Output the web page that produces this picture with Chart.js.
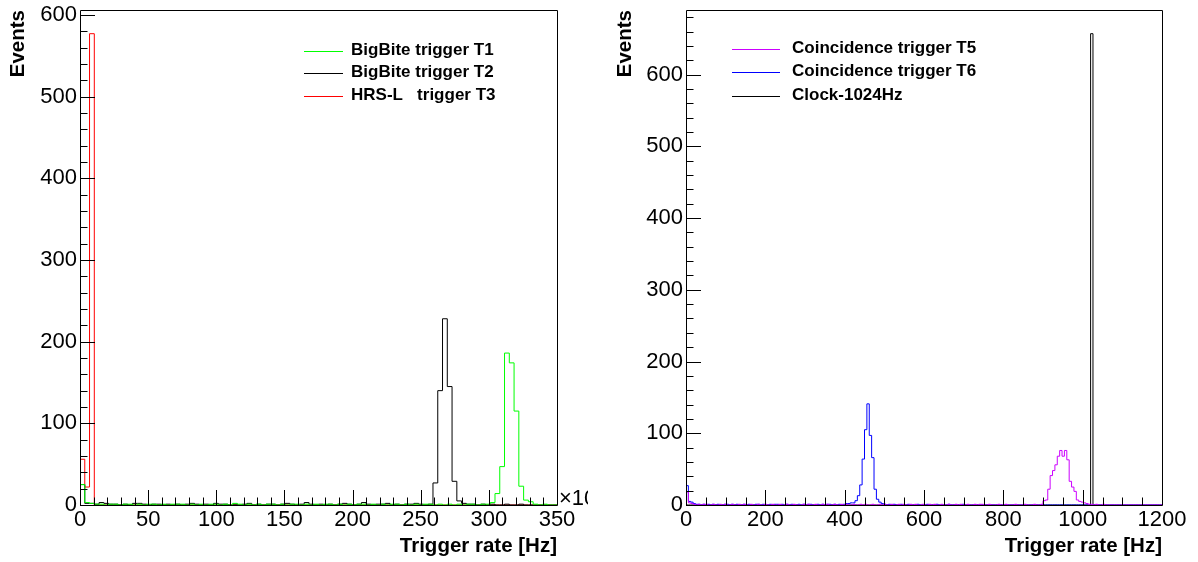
<!DOCTYPE html>
<html>
<head>
<meta charset="utf-8">
<script src="https://cdn.jsdelivr.net/npm/chart.js@4.4.1/dist/chart.umd.min.js"></script>
<style>
  body { margin: 0; background: #fff; }
  #wrap { position: relative; width: 1198px; height: 562px; }
  canvas { position: absolute; top: 0; }
</style>
</head>
<body>
<div id="wrap">
  <canvas id="left" width="599" height="562" style="left:0"></canvas>
  <canvas id="right" width="599" height="562" style="left:599px"></canvas>
</div>
<script>
// left pad: rates in units of 10^3 Hz, 100 bins from 0 to 350
const leftBinWidth = 3.5;
const leftXTicks = [0, 50, 100, 150, 200, 250, 300, 350];
const leftYTicks = [0, 100, 200, 300, 400, 500, 600];
const leftLabels = ['BigBite trigger T1', 'BigBite trigger T2', 'HRS-L   trigger T3'];
const bigbiteT1 = [
  25,3,2,1,1,0,1,1,0,1, 1,0,1,0,1,1,0,1,0,1,
  1,1,0,1,0,1,0,1,1,0, 1,0,2,1,0,1,0,1,0,1,
  1,0,1,0,1,1,0,1,0,1, 0,1,1,0,1,0,1,0,1,1,
  0,1,0,1,0,1,1,0,1,0, 1,0,1,1,0,1,0,1,0,1,
  0,1,1,0,1,1,3,14,47,186, 174,115,23,6,4,1,0,1,0,0
];
const bigbiteT2 = [
  25,2,2,1,3,2,1,1,0,1, 0,2,2,1,0,1,1,0,1,0,
  1,0,1,2,1,0,1,0,2,1, 1,0,1,0,1,2,0,1,0,1,
  1,0,1,2,1,0,1,3,1,0, 1,0,1,0,1,2,1,0,1,3,
  1,0,1,1,2,0,1,0,1,1, 2,1,0,1,27,140,228,145,29,5,
  2,1,1,0,1,0,1,0,0,1, 0,0,1,0,0,0,0,0,0,0
];
const hrsT3 = [
  56,22,577,0,0,0,0,0,0,0, 0,0,0,0,0,0,0,0,0,0,
  0,0,0,0,0,0,0,0,0,0, 0,0,0,0,0,0,0,0,0,0,
  0,0,0,0,0,0,0,0,0,0, 0,0,0,0,0,0,0,0,0,0,
  0,0,0,0,0,0,0,0,0,0, 0,0,0,0,0,0,0,0,0,0,
  0,0,0,0,0,0,0,0,0,0, 0,0,0,0,0,0,0,0,0,0
];

// right pad: rates in Hz, 200 bins from 0 to 1200
const rightBinWidth = 6;
const rightXTicks = [0, 200, 400, 600, 800, 1000, 1200];
const rightYTicks = [0, 100, 200, 300, 400, 500, 600];
const rightLabels = ['Coincidence trigger T5', 'Coincidence trigger T6', 'Clock-1024Hz'];
const coincT5 = [
  18,3,2,1,0,1,0,1,1,0, 0,1,0,0,1,0,1,0,0,1,
  0,0,1,0,1,0,0,1,0,0, 1,0,0,1,0,0,1,0,0,1,
  0,0,1,0,0,1,0,0,0,1, 0,1,0,0,1,0,0,1,0,1,
  0,0,1,0,0,1,0,1,0,0, 1,0,0,1,0,1,0,0,1,0,
  0,1,0,1,0,0,1,0,0,1, 0,1,0,0,1,0,1,0,0,1,
  0,0,1,0,1,0,0,1,0,0, 1,0,0,1,0,1,0,0,1,0,
  0,1,0,1,1,0,0,1,0,0, 0,1,0,0,1,0,0,0,1,0,
  0,0,1,0,0,0,1,0,0,1, 6,7,22,41,48,56,68,76,68,76,
  63,33,25,19,7,5,4,3,2,1, 1,0,1,0,0,1,0,0,0,0,
  0,0,0,0,0,0,0,0,0,0, 0,0,0,0,0,0,0,0,0,0
];
const coincT6 = [
  27,5,4,2,1,1,0,1,0,1, 0,1,0,1,0,0,1,1,0,1,
  0,1,0,0,1,0,1,0,0,1, 1,0,1,0,0,1,0,1,1,0,
  1,0,1,0,1,0,0,1,0,1, 0,1,1,0,0,1,0,1,0,1,
  1,0,1,0,1,0,1,2,2,3, 3,6,13,28,64,105,141,97,66,22,
  8,4,2,1,0,1,0,1,0,0, 1,0,0,1,0,0,0,1,0,0,
  0,1,0,0,0,1,0,0,0,0, 1,0,0,0,0,0,1,0,0,0,
  0,0,0,0,0,0,0,0,0,0, 0,0,0,0,0,0,0,0,0,0,
  0,0,0,0,0,0,0,0,0,0, 0,0,0,0,0,0,0,0,0,0,
  0,0,0,0,0,0,0,0,0,0, 0,0,0,0,0,0,0,0,0,0,
  0,0,0,0,0,0,0,0,0,0, 0,0,0,0,0,0,0,0,0,0
];
const clock1024 = [
  0,0,0,0,0,0,0,0,0,0, 0,0,0,0,0,0,0,0,0,0,
  0,0,0,0,0,0,0,0,0,0, 0,0,0,0,0,0,0,0,0,0,
  0,0,0,0,0,0,0,0,0,0, 0,0,0,0,0,0,0,0,0,0,
  0,0,0,0,0,0,0,0,0,0, 0,0,0,0,0,0,0,0,0,0,
  0,0,0,0,0,0,0,0,0,0, 0,0,0,0,0,0,0,0,0,0,
  0,0,0,0,0,0,0,0,0,0, 0,0,0,0,0,0,0,0,0,0,
  0,0,0,0,0,0,0,0,0,0, 0,0,0,0,0,0,0,0,0,0,
  0,0,0,0,0,0,0,0,0,0, 0,0,0,0,0,0,0,0,0,0,
  0,0,0,0,0,0,0,0,0,0, 657,0,0,0,0,0,0,0,0,0,
  0,0,0,0,0,0,0,0,0,0, 0,0,0,0,0,0,0,0,0,0
];

const FONT = 'Liberation Sans';

// step outline like a ROOT histogram: one point per low bin edge
function histPoints(counts, w) {
  const pts = [{ x: 0, y: 0 }];
  counts.forEach((c, i) => pts.push({ x: i * w, y: c }));
  pts.push({ x: counts.length * w, y: 0 });
  return pts;
}

// frame, inside ticks, legend box and exponent label
const rootStyle = {
  id: 'rootStyle',
  afterDraw(chart, args, opts) {
    const ctx = chart.ctx;
    const { left, right, top, bottom } = chart.chartArea;
    const xs = chart.scales.x, ys = chart.scales.y;
    ctx.save();
    ctx.strokeStyle = '#000';
    ctx.lineWidth = 1;
    ctx.beginPath();
    ctx.rect(Math.round(left) + 0.5, Math.round(top) + 0.5, Math.round(right - left), Math.round(bottom - top));
    for (let v = ys.min; v <= ys.max + 1e-6; v += opts.yMinor) {
      const py = Math.round(ys.getPixelForValue(v)) + 0.5;
      const len = Math.abs(v % opts.yMajor) < 1e-6 ? 15 : 7.5;
      ctx.moveTo(left, py); ctx.lineTo(left + len, py);
    }
    for (let v = xs.min; v <= xs.max + 1e-6; v += opts.xMinor) {
      const px = Math.round(xs.getPixelForValue(v)) + 0.5;
      const len = Math.abs(v % opts.xMajor) < 1e-6 ? 15 : 7.5;
      ctx.moveTo(px, bottom); ctx.lineTo(px, bottom - len);
    }
    ctx.stroke();

    ctx.font = 'bold 17px "' + FONT + '"';
    ctx.textBaseline = 'middle';
    ctx.textAlign = 'left';
    opts.legend.rows.forEach((y, i) => {
      const ds = chart.data.datasets[i];
      ctx.strokeStyle = ds.borderColor;
      ctx.beginPath();
      ctx.moveTo(opts.legend.x0, y + 0.5);
      ctx.lineTo(opts.legend.x1, y + 0.5);
      ctx.stroke();
      ctx.fillStyle = '#000';
      ctx.fillText(ds.label, opts.legend.textX, y - 1);
    });

    if (opts.exponent) {
      ctx.beginPath();
      ctx.rect(0, 0, opts.exponent.clip, chart.height);
      ctx.clip();
      ctx.font = '22px "' + FONT + '"';
      ctx.textBaseline = 'alphabetic';
      ctx.fillText(opts.exponent.text, opts.exponent.x, opts.exponent.y);
    }
    ctx.restore();
  }
};

function makePad(canvasId, cfg) {
  return new Chart(document.getElementById(canvasId), {
    type: 'line',
    data: {
      datasets: cfg.series.map((s, i) => ({
        label: cfg.labels[i],
        data: histPoints(s, cfg.binWidth),
        borderColor: cfg.colors[i]
      }))
    },
    options: {
      responsive: false,
      animation: false,
      elements: {
        line: { borderWidth: 1, stepped: true, tension: 0, fill: false },
        point: { radius: 0 }
      },
      layout: { padding: { left: 0, right: cfg.padRight, top: 10, bottom: 0 } },
      plugins: {
        legend: { display: false },
        tooltip: { enabled: false },
        rootStyle: cfg.style
      },
      scales: {
        x: {
          type: 'linear', min: 0, max: cfg.xMax,
          grid: { display: false, drawTicks: false }, border: { display: false },
          ticks: {
            autoSkip: false, maxRotation: 0, padding: 2, callback: v => String(v),
            color: '#000', font: { family: FONT, size: 22 }
          },
          afterBuildTicks: s => { s.ticks = cfg.xTicks.map(v => ({ value: v })); },
          title: {
            display: true, text: 'Trigger rate [Hz]', align: 'end', color: '#000',
            font: { family: FONT, size: 20.5, weight: 'bold' }, padding: { top: 0, bottom: 3 }
          },
          afterFit: s => { s.height = 57; s.paddingLeft = 0; s.paddingRight = 0; }
        },
        y: {
          type: 'linear', min: 0, max: cfg.yMax,
          grid: { display: false, drawTicks: false }, border: { display: false },
          ticks: {
            padding: 3, autoSkip: false, callback: v => String(v),
            color: '#000', font: { family: FONT, size: 22 }
          },
          afterBuildTicks: s => { s.ticks = cfg.yTicks.map(v => ({ value: v })); },
          title: {
            display: true, text: 'Events', align: 'end', color: '#000',
            font: { family: FONT, size: 20.5, weight: 'bold' }, padding: { top: cfg.yTitlePad, bottom: 0 }
          },
          afterFit: s => { s.width = cfg.yWidth; s.paddingTop = 0; s.paddingBottom = 0; }
        }
      }
    },
    plugins: [rootStyle]
  });
}

makePad('left', {
  series: [bigbiteT1, bigbiteT2, hrsT3],
  labels: leftLabels,
  colors: ['#00ff00', '#000000', '#ff0000'],
  binWidth: leftBinWidth,
  xTicks: leftXTicks, yTicks: leftYTicks,
  xMax: 350, yMax: 606,
  padRight: 42, yWidth: 80, yTitlePad: 6,
  style: {
    xMajor: 50, xMinor: 10, yMajor: 100, yMinor: 20,
    legend: { x0: 304, x1: 343, textX: 351, rows: [51, 73, 96] },
    exponent: { text: '\u00d710', x: 559, y: 505, clip: 588 }
  }
});

makePad('right', {
  series: [coincT5, coincT6, clock1024],
  labels: rightLabels,
  colors: ['#cc00ff', '#0000ff', '#000000'],
  binWidth: rightBinWidth,
  xTicks: rightXTicks, yTicks: rightYTicks,
  xMax: 1200, yMax: 690,
  padRight: 36, yWidth: 87, yTitlePad: 14,
  style: {
    xMajor: 200, xMinor: 50, yMajor: 100, yMinor: 20,
    legend: { x0: 133, x1: 181, textX: 193, rows: [49, 72, 96] }
  }
});
</script>
</body>
</html>
